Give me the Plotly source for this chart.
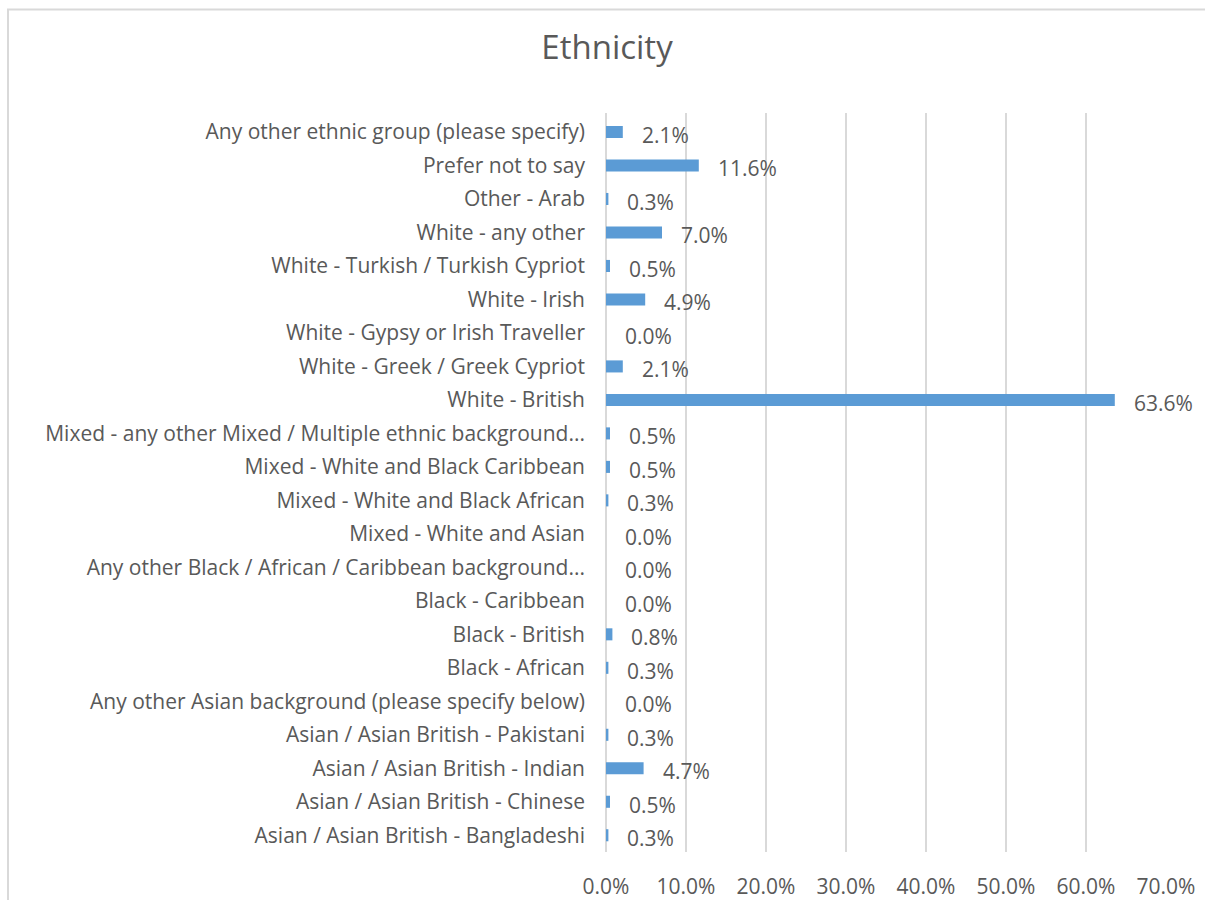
import plotly.graph_objects as go

# Survey responses by ethnic group (share of respondents, %), listed top to bottom
categories = [
    "Any other ethnic group (please specify)",
    "Prefer not to say",
    "Other - Arab",
    "White - any other",
    "White - Turkish / Turkish Cypriot",
    "White - Irish",
    "White - Gypsy or Irish Traveller",
    "White - Greek / Greek Cypriot",
    "White - British",
    "Mixed - any other Mixed / Multiple ethnic background...",
    "Mixed - White and Black Caribbean",
    "Mixed - White and Black African",
    "Mixed - White and Asian",
    "Any other Black / African / Caribbean background...",
    "Black - Caribbean",
    "Black - British",
    "Black - African",
    "Any other Asian background (please specify below)",
    "Asian / Asian British - Pakistani",
    "Asian / Asian British - Indian",
    "Asian / Asian British - Chinese",
    "Asian / Asian British - Bangladeshi",
]
shares = [2.1, 11.6, 0.3, 7.0, 0.5, 4.9, 0.0, 2.1, 63.6, 0.5, 0.5, 0.3,
          0.0, 0.0, 0.0, 0.8, 0.3, 0.0, 0.3, 4.7, 0.5, 0.3]
x_ticks = [0, 10, 20, 30, 40, 50, 60, 70]
x_tick_labels = [f"{v:.1f}%" for v in x_ticks]

TEXT = "#595959"
GRID = "#D9D9D9"
FONT = "Open Sans"
FS = 21

W, H = 1205, 900
L, R, T, B = 606, 39, 113, 48
plot_w = W - L - R
plot_h = H - T - B

fig = go.Figure(go.Bar(
    x=shares,
    y=categories,
    orientation="h",
    marker=dict(color="#5B9BD5", line=dict(width=0)),
    hoverinfo="x+y",
))

# value labels just past the end of each bar
for cat, val in zip(categories, shares):
    fig.add_annotation(
        x=val, y=cat, xref="x", yref="y",
        text=f"{val:.1f}%", showarrow=False,
        xanchor="left", yanchor="middle", xshift=17, yshift=-3,
        font=dict(family=FONT, size=FS, color=TEXT),
    )

# light frame around the chart area
fig.add_shape(
    type="rect", xref="paper", yref="paper",
    x0=(8 - L) / plot_w, x1=(W + 10 - L) / plot_w,
    y0=-0.5, y1=1 + (T - 9.5) / plot_h,
    line=dict(color=GRID, width=2), fillcolor="rgba(0,0,0,0)", layer="below",
)

fig.update_layout(
    width=W, height=H,
    margin=dict(l=L, r=R, t=T, b=B, autoexpand=False),
    paper_bgcolor="white", plot_bgcolor="white",
    bargap=0.64,
    showlegend=False,
    title=dict(
        text="Ethnicity", x=607 / W, xanchor="center", xref="container",
        y=1 - 47 / H, yanchor="middle", yref="container",
        font=dict(family=FONT, size=33, color=TEXT),
    ),
    font=dict(family=FONT, size=FS, color=TEXT),
    xaxis=dict(
        range=[0, 70], tickvals=x_ticks, ticktext=x_tick_labels,
        showgrid=True, gridcolor=GRID, gridwidth=1.5,
        zeroline=True, zerolinecolor=GRID, zerolinewidth=1.5,
        showline=False, ticks="", ticklabelstandoff=20,
        tickfont=dict(family=FONT, size=FS, color=TEXT),
        fixedrange=True,
    ),
    yaxis=dict(
        autorange="reversed", type="category",
        showgrid=False, zeroline=False, showline=False, ticks="",
        ticklabelstandoff=20,
        tickfont=dict(family=FONT, size=FS, color=TEXT),
        fixedrange=True,
    ),
)

fig.write_html("out.html")
